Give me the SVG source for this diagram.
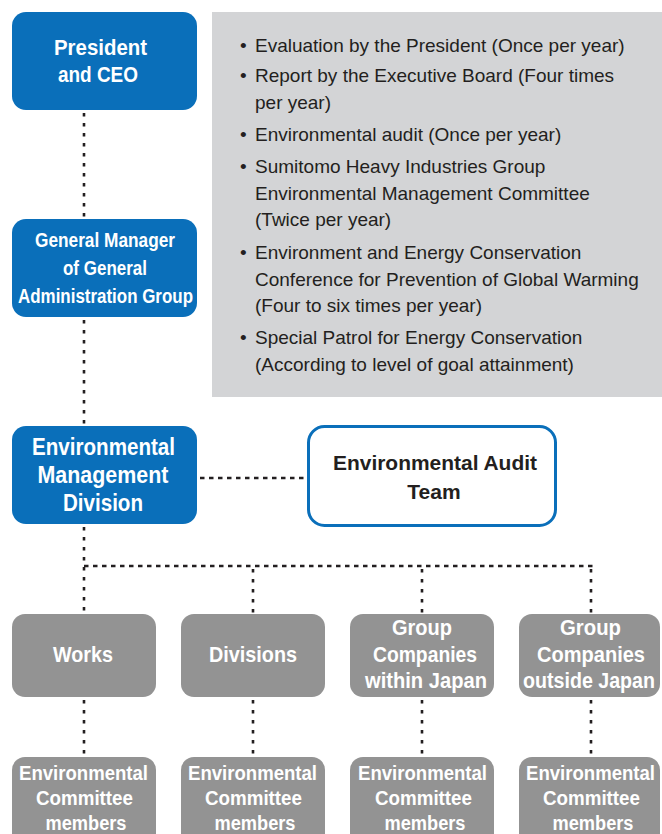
<svg xmlns="http://www.w3.org/2000/svg" width="662" height="834" viewBox="0 0 662 834">
<style>
.blue{fill:#0a6fba}
.gray{fill:#939393}
.wt{fill:#ffffff;font-family:"Liberation Sans",Arial,sans-serif;font-weight:bold;text-anchor:middle}
.dk{fill:#231f20;font-family:"Liberation Sans",Arial,sans-serif;font-weight:bold;text-anchor:middle}
.pt{fill:#231f20;font-family:"Liberation Sans",Arial,sans-serif;font-size:19px}
.conn{stroke:#231f20;stroke-width:2.6;fill:none;stroke-dasharray:3.5 6.5}
.connh{stroke:#231f20;stroke-width:2.4;fill:none;stroke-dasharray:4.5 4.5}
</style>
<rect width="662" height="834" fill="#ffffff"/>
<g id="panel">
<rect x="212" y="12" width="450" height="385" fill="#d3d4d6"/>
<text class="pt">
<tspan x="240" y="52">•</tspan><tspan x="255" y="52">Evaluation by the President (Once per year)</tspan>
<tspan x="240" y="82">•</tspan><tspan x="255" y="82">Report by the Executive Board (Four times</tspan>
<tspan x="255" y="109">per year)</tspan>
<tspan x="240" y="141">•</tspan><tspan x="255" y="141">Environmental audit (Once per year)</tspan>
<tspan x="240" y="173">•</tspan><tspan x="255" y="173">Sumitomo Heavy Industries Group</tspan>
<tspan x="255" y="200">Environmental Management Committee</tspan>
<tspan x="255" y="226">(Twice per year)</tspan>
<tspan x="240" y="259">•</tspan><tspan x="255" y="259">Environment and Energy Conservation</tspan>
<tspan x="255" y="286">Conference for Prevention of Global Warming</tspan>
<tspan x="255" y="312">(Four to six times per year)</tspan>
<tspan x="240" y="344">•</tspan><tspan x="255" y="344">Special Patrol for Energy Conservation</tspan>
<tspan x="255" y="371">(According to level of goal attainment)</tspan>
</text>
</g>
<g id="connectors">
<line class="conn" x1="84" y1="113" x2="84" y2="219"/>
<line class="conn" x1="84" y1="320" x2="84" y2="426"/>
<line class="conn" x1="84" y1="527" x2="84" y2="614"/>
<line class="connh" x1="200" y1="478" x2="307" y2="478"/>
<line class="connh" x1="84" y1="566" x2="593" y2="566"/>
<line class="conn" x1="253" y1="569" x2="253" y2="614"/>
<line class="conn" x1="422" y1="569" x2="422" y2="614"/>
<line class="conn" x1="591" y1="569" x2="591" y2="614"/>
<line class="conn" x1="84" y1="700" x2="84" y2="757"/>
<line class="conn" x1="253" y1="700" x2="253" y2="757"/>
<line class="conn" x1="422" y1="700" x2="422" y2="757"/>
<line class="conn" x1="591" y1="700" x2="591" y2="757"/>
</g>
<g id="president">
<rect class="blue" x="12" y="12" width="185" height="98" rx="14"/>
<text class="wt" font-size="22" x="100.5" y="55" textLength="93" lengthAdjust="spacingAndGlyphs">President</text>
<text class="wt" font-size="22" x="98" y="82" textLength="80" lengthAdjust="spacingAndGlyphs">and CEO</text>
</g>
<g id="general-manager">
<rect class="blue" x="12" y="219" width="185" height="98" rx="14"/>
<text class="wt" font-size="19.5" x="105" y="247" textLength="140" lengthAdjust="spacingAndGlyphs">General Manager</text>
<text class="wt" font-size="19.5" x="105" y="275" textLength="84" lengthAdjust="spacingAndGlyphs">of General</text>
<text class="wt" font-size="19.5" x="105.5" y="303" textLength="175" lengthAdjust="spacingAndGlyphs">Administration Group</text>
</g>
<g id="env-mgmt-division">
<rect class="blue" x="12" y="426" width="185" height="98" rx="14"/>
<text class="wt" font-size="23" x="103.5" y="455" textLength="143" lengthAdjust="spacingAndGlyphs">Environmental</text>
<text class="wt" font-size="23" x="103" y="483" textLength="131" lengthAdjust="spacingAndGlyphs">Management</text>
<text class="wt" font-size="23" x="103" y="511" textLength="80" lengthAdjust="spacingAndGlyphs">Division</text>
</g>
<g id="audit-team">
<rect x="308.5" y="426.5" width="247" height="99" rx="16" fill="#ffffff" stroke="#0a6fba" stroke-width="3"/>
<text class="dk" font-size="21" x="435" y="470" textLength="204" lengthAdjust="spacingAndGlyphs">Environmental Audit</text>
<text class="dk" font-size="21" x="434" y="499">Team</text>
</g>
<g id="works">
<rect class="gray" x="12" y="614" width="144" height="83" rx="13"/>
<text class="wt" font-size="21.5" x="83" y="662" textLength="60" lengthAdjust="spacingAndGlyphs">Works</text>
</g>
<g id="divisions">
<rect class="gray" x="181" y="614" width="144" height="83" rx="13"/>
<text class="wt" font-size="21.5" x="253" y="662" textLength="88" lengthAdjust="spacingAndGlyphs">Divisions</text>
</g>
<g id="group-within">
<rect class="gray" x="350" y="614" width="144" height="83" rx="13"/>
<text class="wt" font-size="21.5" x="422" y="635" textLength="60" lengthAdjust="spacingAndGlyphs">Group</text>
<text class="wt" font-size="21.5" x="425" y="662" textLength="104" lengthAdjust="spacingAndGlyphs">Companies</text>
<text class="wt" font-size="21.5" x="426" y="688" textLength="122" lengthAdjust="spacingAndGlyphs">within Japan</text>
</g>
<g id="group-outside">
<rect class="gray" x="519" y="614" width="141" height="83" rx="13"/>
<text class="wt" font-size="21.5" x="590.5" y="635" textLength="61" lengthAdjust="spacingAndGlyphs">Group</text>
<text class="wt" font-size="21.5" x="591" y="662" textLength="108" lengthAdjust="spacingAndGlyphs">Companies</text>
<text class="wt" font-size="21.5" x="589" y="688" textLength="132" lengthAdjust="spacingAndGlyphs">outside Japan</text>
</g>
<g id="committee-1">
<rect class="gray" x="12" y="757" width="144" height="100" rx="13"/>
<text class="wt" font-size="20" x="83.5" y="780" textLength="129" lengthAdjust="spacingAndGlyphs">Environmental</text>
<text class="wt" font-size="20" x="84.5" y="805" textLength="97" lengthAdjust="spacingAndGlyphs">Committee</text>
<text class="wt" font-size="20" x="86" y="830" textLength="81" lengthAdjust="spacingAndGlyphs">members</text>
</g>
<g id="committee-2">
<rect class="gray" x="181" y="757" width="144" height="100" rx="13"/>
<text class="wt" font-size="20" x="252.5" y="780" textLength="129" lengthAdjust="spacingAndGlyphs">Environmental</text>
<text class="wt" font-size="20" x="253.5" y="805" textLength="97" lengthAdjust="spacingAndGlyphs">Committee</text>
<text class="wt" font-size="20" x="255" y="830" textLength="81" lengthAdjust="spacingAndGlyphs">members</text>
</g>
<g id="committee-3">
<rect class="gray" x="350" y="757" width="144" height="100" rx="13"/>
<text class="wt" font-size="20" x="422.5" y="780" textLength="129" lengthAdjust="spacingAndGlyphs">Environmental</text>
<text class="wt" font-size="20" x="423.5" y="805" textLength="97" lengthAdjust="spacingAndGlyphs">Committee</text>
<text class="wt" font-size="20" x="425" y="830" textLength="81" lengthAdjust="spacingAndGlyphs">members</text>
</g>
<g id="committee-4">
<rect class="gray" x="519" y="757" width="141" height="100" rx="13"/>
<text class="wt" font-size="20" x="590.5" y="780" textLength="129" lengthAdjust="spacingAndGlyphs">Environmental</text>
<text class="wt" font-size="20" x="591.5" y="805" textLength="97" lengthAdjust="spacingAndGlyphs">Committee</text>
<text class="wt" font-size="20" x="593" y="830" textLength="81" lengthAdjust="spacingAndGlyphs">members</text>
</g>
</svg>
